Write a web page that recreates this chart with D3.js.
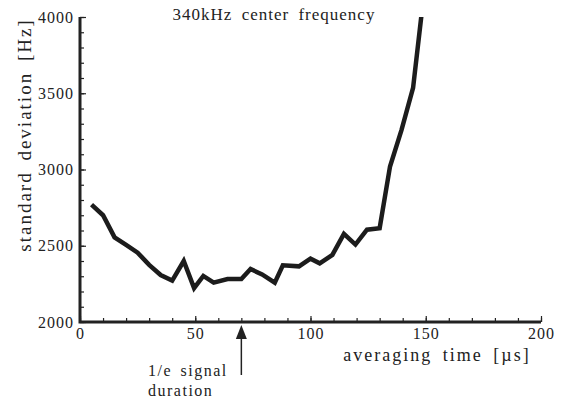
<!DOCTYPE html>
<html>
<head>
<meta charset="utf-8">
<script src="https://cdn.jsdelivr.net/npm/d3@7"></script>
<style>
  body { margin: 0; background: #fff; }
</style>
</head>
<body>
<svg id="chart" width="570" height="405"></svg>
<script>
// averaging time [us] and standard deviation [Hz]
const avgTime = [5, 10, 15, 20, 25, 30, 35, 40, 45, 49.5, 53.5, 58, 64, 70, 74, 79, 84.5, 88, 95, 100, 104, 109.5, 114.5, 119.5, 124.5, 130, 134.5, 139.5, 144.5, 148.5];
const stdDev  = [2770, 2700, 2555, 2505, 2455, 2375, 2308, 2272, 2400, 2222, 2302, 2258, 2282, 2282, 2347, 2312, 2258, 2372, 2365, 2415, 2385, 2440, 2578, 2508, 2605, 2615, 3020, 3260, 3535, 4060];
const xTicks = [0, 50, 100, 150, 200];
const yTicks = [2000, 2500, 3000, 3500, 4000];
const markerTime = 70;

const serif = '"Liberation Serif"';
const svg = d3.select('#chart').style('font-family', serif);
const margin = { top: 17, right: 29, bottom: 83, left: 80 };
const width = 570 - margin.left - margin.right;
const height = 405 - margin.top - margin.bottom;

var x = d3.scaleLinear().domain([0, 200]).range([margin.left, margin.left + width]);
var y = d3.scaleLinear().domain([2000, 4000]).range([margin.top + height, margin.top]);

svg.append('defs').append('clipPath').attr('id', 'plot')
    .append('rect')
    .attr('x', margin.left).attr('y', margin.top)
    .attr('width', width).attr('height', height);

// minor ticks (inward)
var xAxisMinor = d3.axisTop(x).tickValues(d3.range(0, 201, 10)).tickSize(4).tickFormat('');
var yAxisMinor = d3.axisRight(y).tickValues(d3.range(2000, 4001, 100)).tickSize(4).tickFormat('');
var xAxisMajor = d3.axisTop(x).tickValues(xTicks).tickSize(6).tickFormat('');
var yAxisMajor = d3.axisRight(y).tickValues(yTicks).tickSize(6).tickFormat('');

[xAxisMinor, xAxisMajor].forEach(function(ax) {
    svg.append('g').attr('transform', 'translate(0,' + (margin.top + height) + ')')
        .call(ax)
        .call(g => g.select('.domain').remove())
        .selectAll('line').attr('stroke', '#222').attr('stroke-width', 1.2);
});
[yAxisMinor, yAxisMajor].forEach(function(ax) {
    svg.append('g').attr('transform', 'translate(' + margin.left + ',0)')
        .call(ax)
        .call(g => g.select('.domain').remove())
        .selectAll('line').attr('stroke', '#222').attr('stroke-width', 1.2);
});

// axis lines
svg.append('path')
    .attr('d', 'M' + x(0) + ',' + y(4000) + 'V' + y(2000) + 'H' + x(200))
    .attr('fill', 'none')
    .attr('stroke', '#222')
    .attr('stroke-width', 3)
    .attr('stroke-linejoin', 'miter');

// text helper
function label(sel, size, ls, ws) {
    return sel.style('font-family', serif)
        .attr('fill', '#222')
        .style('font-size', size + 'px')
        .style('letter-spacing', ls + 'px')
        .style('word-spacing', ws + 'px');
}

// tick labels
label(svg.append('g').selectAll('text')
    .data(xTicks)
    .enter().append('text'), 16, 1, 0)
    .attr('x', d => x(d) + 0.5)
    .attr('y', margin.top + height + 17)
    .attr('text-anchor', 'middle')
    .text(d => d);

label(svg.append('g').selectAll('text')
    .data(yTicks)
    .enter().append('text'), 16, 1, 0)
    .attr('x', margin.left - 6)
    .attr('y', d => y(d))
    .attr('dy', '0.35em')
    .attr('text-anchor', 'end')
    .text(d => d);

// data line
var line = d3.line()
    .x((d, i) => x(avgTime[i]))
    .y(d => y(d));

svg.append('path')
    .datum(stdDev)
    .attr('clip-path', 'url(#plot)')
    .attr('fill', 'none')
    .attr('stroke', '#1c1c1c')
    .attr('stroke-width', 4.5)
    .attr('stroke-linejoin', 'miter')
    .attr('d', line);

// titles
label(svg.append('text'), 17, 1.0, 4)
    .attr('x', 274)
    .attr('y', 20)
    .attr('text-anchor', 'middle')
    .text('340kHz center frequency');

label(svg.append('text'), 19, 2.0, 4)
    .attr('transform', 'translate(31,' + 135 + ') rotate(-90)')
    .attr('text-anchor', 'middle')
    .text('standard deviation [Hz]');

label(svg.append('text'), 18, 2.0, 4)
    .attr('x', 437)
    .attr('y', 361)
    .attr('text-anchor', 'middle')
    .text('averaging time [µs]');

// 1/e signal duration marker
var ax = x(markerTime);
var yTop = margin.top + height + 3;
svg.append('line')
    .attr('x1', ax).attr('x2', ax)
    .attr('y1', yTop + 10).attr('y2', 375)
    .attr('stroke', '#222').attr('stroke-width', 1.5);
svg.append('path')
    .attr('d', 'M' + ax + ',' + yTop + 'L' + (ax - 5.5) + ',' + (yTop + 14) + 'L' + (ax + 5.5) + ',' + (yTop + 14) + 'Z')
    .attr('fill', '#222');

label(svg.append('text'), 16, 1.5, 3)
    .attr('x', 148)
    .attr('y', 376)
    .text('1/e signal');
label(svg.append('text'), 16, 1.5, 3)
    .attr('x', 148)
    .attr('y', 396)
    .text('duration');
</script>
</body>
</html>
